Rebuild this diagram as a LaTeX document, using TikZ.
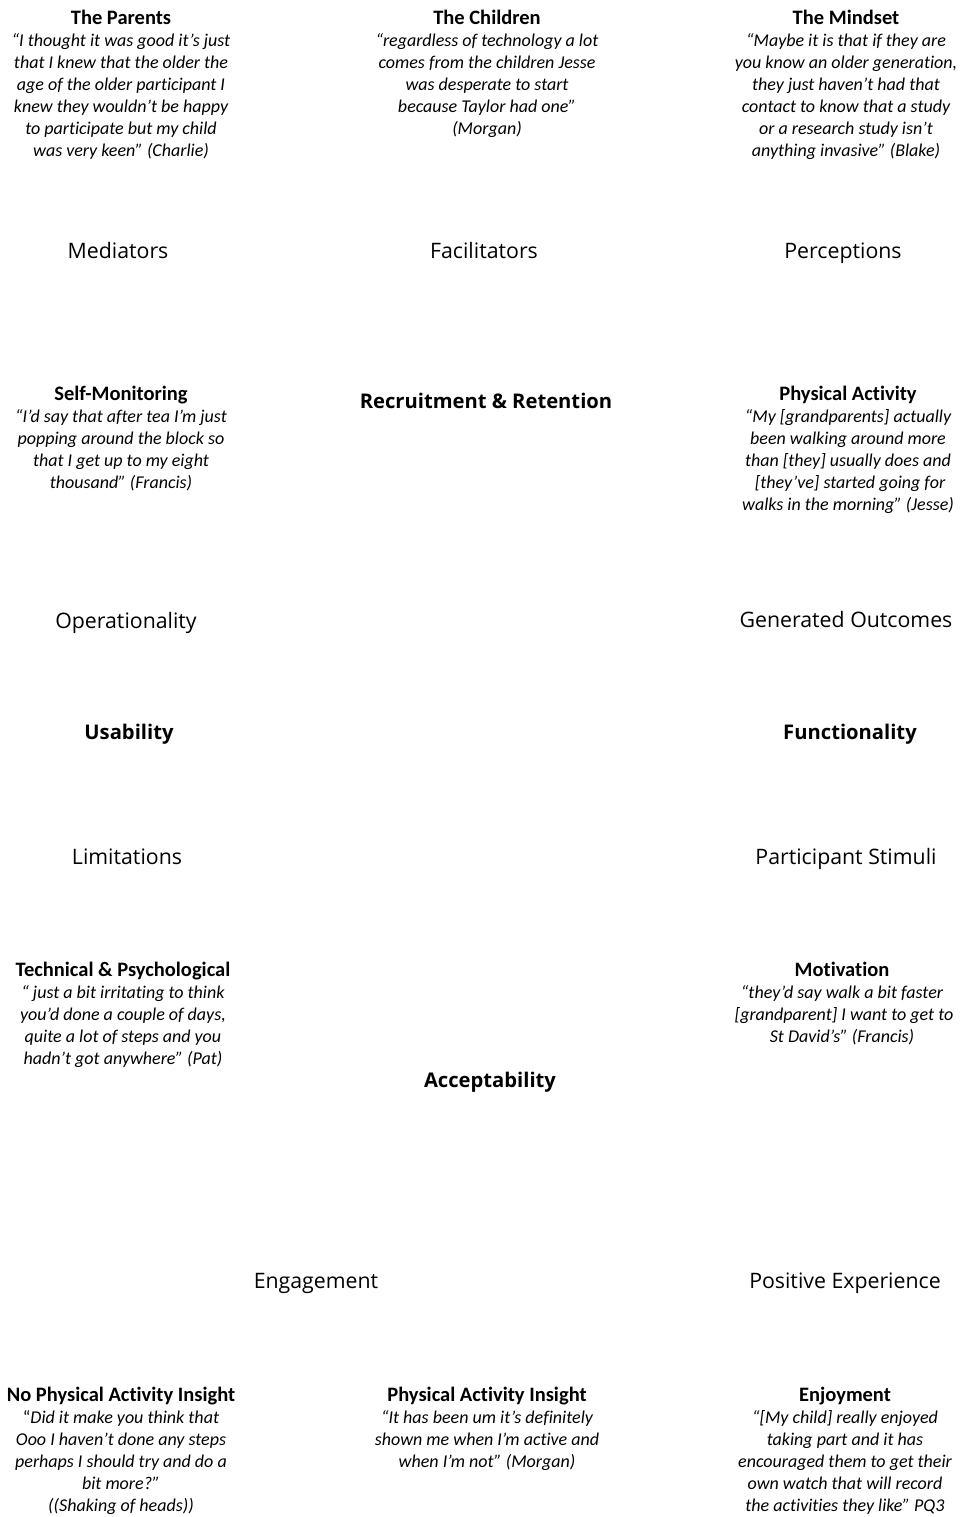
\documentclass[tikz,border=0pt]{standalone}
\usepackage{fontspec}
\setmainfont{Carlito}[Ligatures=NoCommon]
\newfontfamily\labelfont{Open Sans}
\usepackage{tikz}

\newcommand\quotehead[1]{{\upshape\bfseries\fontsize{20.5}{22}\selectfont #1}}

\begin{document}
\begin{tikzpicture}[
  quote_box/.style={align=center, inner sep=0pt, anchor=north, font=\fontsize{18}{22}\selectfont\itshape},
  theme_label/.style={inner sep=0pt, anchor=base, font=\labelfont\fontsize{21.3}{25}\selectfont},
  theme_head/.style={inner sep=0pt, anchor=base, font=\labelfont\bfseries\fontsize{20.2}{24}\selectfont},
]
\fill[white] (0,0) rectangle (967pt,-1517pt);
% top row
\draw (121pt,-10pt) node (parents) [quote_box] {\quotehead{The Parents}\\
  “I thought it was good it’s just\\ that I knew that the older the\\ age of the older participant I\\
  knew they wouldn’t be happy\\ to participate but my child\\ was very keen” (Charlie)};
\draw (487pt,-10pt) node (children) [quote_box] {\quotehead{The Children}\\
  “regardless of technology a lot\\ comes from the children Jesse\\ was desperate to start\\
  because Taylor had one”\\ (Morgan)};
\draw (846pt,-10pt) node (mindset) [quote_box] {\quotehead{The Mindset}\\
  “Maybe it is that if they are\\ you know an older generation,\\ they just haven’t had that\\
  contact to know that a study\\ or a research study isn’t\\ anything invasive” (Blake)};
\draw (118pt,-258pt) node (mediators) [theme_label] {Mediators};
\draw (484pt,-258pt) node (facilitators) [theme_label] {Facilitators};
\draw (843pt,-258pt) node (perceptions) [theme_label] {Perceptions};
% middle
\draw (121pt,-386pt) node (selfmon) [quote_box] {\quotehead{Self-Monitoring}\\
  “I’d say that after tea I’m just\\ popping around the block so\\ that I get up to my eight\\
  thousand” (Francis)};
\draw (486pt,-408pt) node (recruit) [theme_head] {Recruitment \& Retention};
\draw (848pt,-386pt) node (physact) [quote_box] {\quotehead{Physical Activity}\\
  “My [grandparents] actually\\ been walking around more\\ than [they] usually does and\\{}
  [they’ve] started going for\\ walks in the morning” (Jesse)};
\draw (126pt,-628pt) node (operation) [theme_label] {Operationality};
\draw (846pt,-627pt) node (outcomes) [theme_label] {Generated Outcomes};
\draw (129pt,-739pt) node (usability) [theme_head] {Usability};
\draw (850pt,-739pt) node (function) [theme_head] {Functionality};
\draw (127pt,-864pt) node (limits) [theme_label] {Limitations};
\draw (846pt,-864pt) node (stimuli) [theme_label] {Participant Stimuli};
\draw (123pt,-962pt) node (techpsy) [quote_box] {\quotehead{Technical \& Psychological}\\
  “ just a bit irritating to think\\ you’d done a couple of days,\\ quite a lot of steps and you\\
  hadn’t got anywhere” (Pat)};
\draw (842pt,-962pt) node (motivation) [quote_box] {\quotehead{Motivation}\\
  “they’d say walk a bit faster\\{} [grandparent] I want to get to\\ St David’s” (Francis)};
% bottom
\draw (490pt,-1087pt) node (accept) [theme_head] {Acceptability};
\draw (316pt,-1288pt) node (engage) [theme_label] {Engagement};
\draw (845pt,-1288pt) node (positive) [theme_label] {Positive Experience};
\draw (121pt,-1387pt) node (noinsight) [quote_box] {\quotehead{No Physical Activity Insight}\\
  {\upshape“}Did it make you think that\\ Ooo I haven’t done any steps\\ perhaps I should try and do a\\
  bit more?”\\ ((Shaking of heads))};
\draw (487pt,-1387pt) node (insight) [quote_box] {\quotehead{Physical Activity Insight}\\
  “It has been um it’s definitely\\ shown me when I’m active and\\ when I’m not” (Morgan)};
\draw (845pt,-1387pt) node (enjoy) [quote_box] {\quotehead{Enjoyment}\\
  “[My child] really enjoyed\\ taking part and it has\\ encouraged them to get their\\
  own watch that will record\\ the activities they like” PQ3};
\end{tikzpicture}
\end{document}
